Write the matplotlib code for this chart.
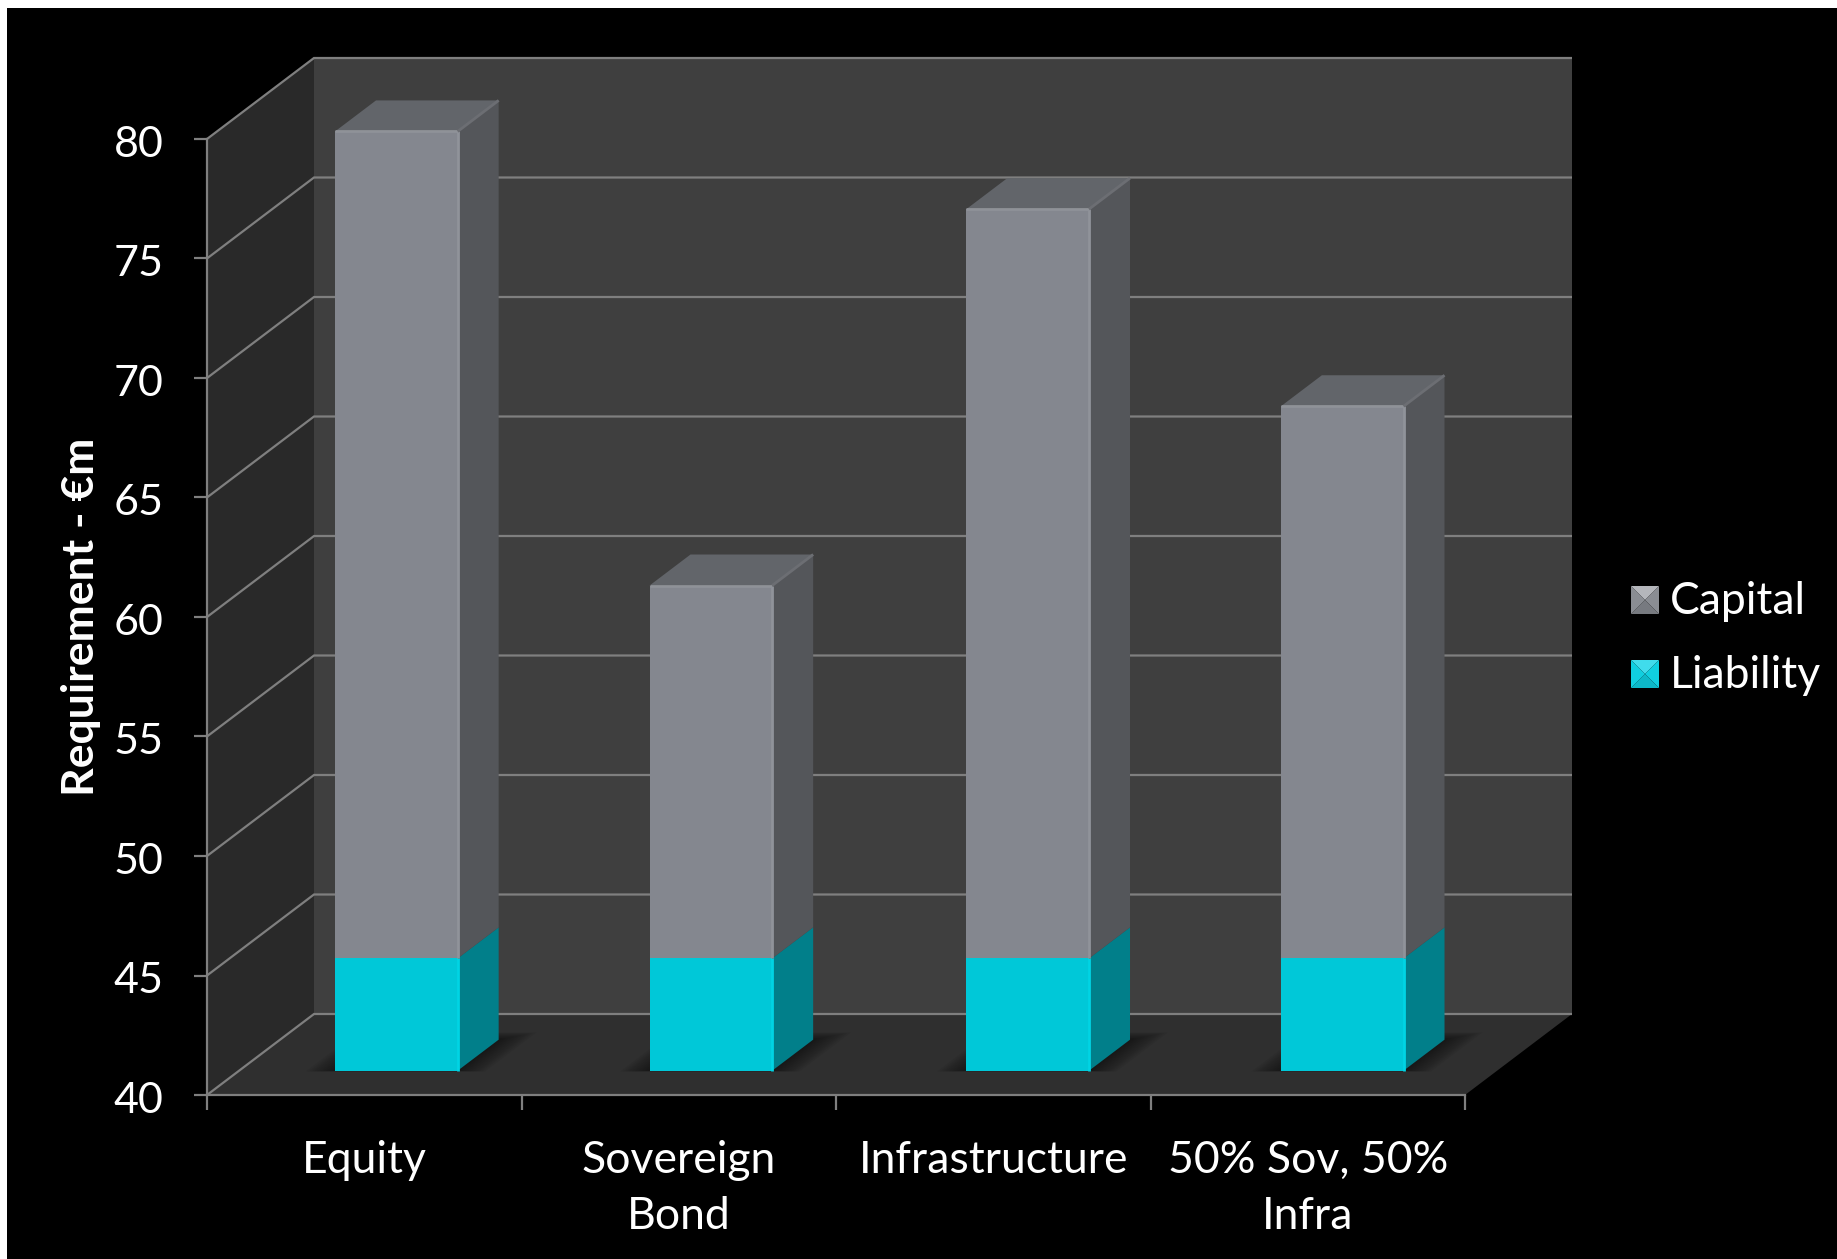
import matplotlib
matplotlib.use('Agg')
import matplotlib.pyplot as plt
from matplotlib.patches import Polygon, Rectangle
from matplotlib.transforms import ScaledTranslation

plt.rcParams['font.family'] = ['Lato', 'DejaVu Sans']

categories = ['Equity', 'Sovereign\nBond', 'Infrastructure', '50% Sov, 50%\nInfra']
liability = [44.7, 44.7, 44.7, 44.7]
capital = [34.6, 15.6, 31.35, 23.1]
y_ticks = [40, 45, 50, 55, 60, 65, 70, 75, 80]

W, H = 1837, 1259
fig = plt.figure(figsize=(W / 100, H / 100), dpi=100, facecolor='white')

# black slide background
fig.add_artist(Rectangle((7 / W, 0), 1, 1 - 8 / H, transform=fig.transFigure, color='black', lw=0, zorder=-1))

# axes covers the front plane of the 3d box
left, right, bottom, top = 207, 1465, 1095, 139
ax = fig.add_axes([left / W, 1 - bottom / H, (right - left) / W, (bottom - top) / H])
ax.set_xlim(0, 4)
ax.set_ylim(40, 80)
ax.patch.set_alpha(0)

# depth shift of the box, in data units
depth_x = 107 / ((right - left) / 4)
depth_y = 81 / ((bottom - top) / 40)


def pt(x, y, d=0.0):
    return (x + d * depth_x, y + d * depth_y)


def face(points, color, z=1, **kw):
    ax.add_patch(Polygon(points, closed=True, facecolor=color, edgecolor='none',
                         clip_on=False, zorder=z, **kw))


grid_color = '#7f7f7f'

# walls and floor
face([pt(0, 40), pt(0, 40, 1), pt(0, 80, 1), pt(0, 80)], '#292929', 1)
face([pt(0, 40, 1), pt(4, 40, 1), pt(4, 80, 1), pt(0, 80, 1)], '#3f3f3f', 1)
face([pt(0, 40), pt(4, 40), pt(4, 40, 1), pt(0, 40, 1)], '#2f2f2f', 1)

# gridlines run along the left wall then the back wall
for v in y_ticks:
    p0, p1, p2 = pt(0, v), pt(0, v, 1), pt(4, v, 1)
    ax.plot([p0[0], p1[0], p2[0]], [p0[1], p1[1], p2[1]], color=grid_color, lw=1.6,
            clip_on=False, zorder=2, solid_joinstyle='miter', solid_capstyle='butt')

bar_w = 0.39
d0, d1 = 0.30, 0.683
centers = [0.5, 1.5, 2.5075, 3.5075]

# soft shadows on the floor under each bar, built from stacked translucent layers
for c in centers:
    x0 = c - bar_w / 2
    x1 = c + bar_w / 2
    for k in range(10):
        e = 0.09 - k * 0.009
        face([pt(x0 - e, 40, d0 - 0.1 * e), pt(x1 + e, 40, d0 - 0.1 * e),
              pt(x1 + e, 40, d1 + e), pt(x0 - e, 40, d1 + e)], 'black', 3, alpha=0.05)

# stacked 3d bars
cap_front, cap_side, cap_top = '#84878f', '#54565a', '#62656a'
lia_front, lia_side = '#00c8d8', '#017f8a'
for i, c in enumerate(centers):
    x0 = c - bar_w / 2
    x1 = c + bar_w / 2
    base = 40
    mid = liability[i]
    end = liability[i] + capital[i]

    face([pt(x1, base, d0), pt(x1, base, d1), pt(x1, mid, d1), pt(x1, mid, d0)], lia_side, 4)
    face([pt(x1, mid, d0), pt(x1, mid, d1), pt(x1, end, d1), pt(x1, end, d0)], cap_side, 4)
    face([pt(x0, end, d0), pt(x1, end, d0), pt(x1, end, d1), pt(x0, end, d1)], cap_top, 4)
    face([pt(x0, base, d0), pt(x1, base, d0), pt(x1, mid, d0), pt(x0, mid, d0)], lia_front, 5)
    face([pt(x0, mid, d0), pt(x1, mid, d0), pt(x1, end, d0), pt(x0, end, d0)], cap_front, 5)

    # light bevel along the front edges and the top corner
    for (a, b, col, da, db) in [((x1, base), (x1, mid), '#00d4e4', d0, d0),
                                ((x1, mid), (x1, end), '#90939a', d0, d0),
                                ((x0, end), (x1, end), '#8f9298', d0, d0),
                                ((x1, end), (x1, end), '#6c6e73', d0, d1)]:
        pa, pb = pt(a[0], a[1], da), pt(b[0], b[1], db)
        ax.plot([pa[0], pb[0]], [pa[1], pb[1]], color=col, lw=2, clip_on=False, zorder=6,
                solid_capstyle='butt')

# axis lines and ticks
for s in ['top', 'right']:
    ax.spines[s].set_visible(False)
for s in ['left', 'bottom']:
    ax.spines[s].set_color(grid_color)
    ax.spines[s].set_linewidth(1.6)
    ax.spines[s].set_zorder(2.5)

ax.set_yticks(y_ticks)
ax.set_xticks([0, 1, 2, 3, 4])
ax.set_xticklabels([])
ax.tick_params(axis='x', color=grid_color, width=1.6, length=11)
ax.tick_params(axis='y', color=grid_color, width=1.6, length=9.5, labelcolor='white', labelsize=31, pad=22)
for label in ax.get_yticklabels():
    label.set_transform(label.get_transform() + ScaledTranslation(0, -1.5 / 72, fig.dpi_scale_trans))

for i, cat in enumerate(categories):
    ax.text(i + 0.5, -0.047, cat, transform=ax.get_xaxis_transform(), color='white', fontsize=32,
            ha='center', va='top', linespacing=1.45)

fig.text(81 / W, 1 - 617 / H, 'Requirement - €m', color='white', fontsize=32, fontweight='bold',
         rotation=90, ha='center', va='center')


# legend swatches with the pyramid bevel
def swatch(x, y, s, light, mid, dark, label):
    c = (x + s / 2, y + s / 2)
    corners = [(x, y), (x + s, y), (x + s, y + s), (x, y + s)]
    colors = [light, mid, dark, mid]
    for k in range(4):
        tri = [corners[k], corners[(k + 1) % 4], c]
        fig.add_artist(Polygon([(px / W, 1 - py / H) for px, py in tri], closed=True,
                               facecolor=colors[k], edgecolor='none', transform=fig.transFigure))
    fig.text((x + s + 11) / W, 1 - (y + s / 2 + 1) / H, label, color='white', fontsize=32,
             ha='left', va='center')


swatch(1631, 586, 28, '#b4b6bb', '#8a8d93', '#777a80', 'Capital')
swatch(1631, 660, 28, '#40dcec', '#10cfe0', '#0db8c8', 'Liability')

fig.savefig('out.png', dpi=100, facecolor=fig.get_facecolor())
